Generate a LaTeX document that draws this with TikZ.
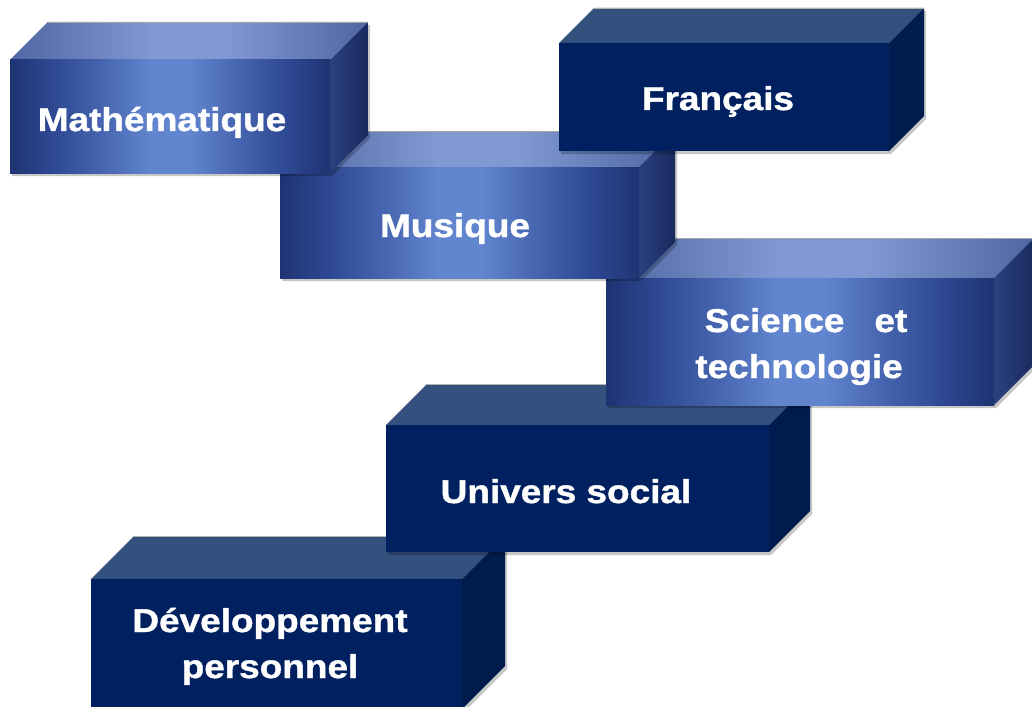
\documentclass[tikz,border=0pt]{standalone}
\usepackage{fontspec}
\setmainfont{Liberation Sans}[FakeStretch=1.12, BoldFeatures={FakeBold=1.2}]
\definecolor{navy}{HTML}{002060}
\definecolor{navytop}{HTML}{34507F}
\definecolor{navyside}{HTML}{001C4E}
\definecolor{gdark}{HTML}{1E3372}
\definecolor{gdm}{HTML}{2C4690}
\definecolor{gmid}{HTML}{4563AE}
\definecolor{glight}{HTML}{6285CF}
\definecolor{tdark}{HTML}{4E67A2}
\definecolor{tlight}{HTML}{8099D2}
\definecolor{sdark}{HTML}{1A2A5E}
\definecolor{slight}{HTML}{2A4080}
\pgfdeclarehorizontalshading{gfront}{100bp}{color(0bp)=(gdark); color(25bp)=(gdark); color(31bp)=(gdm); color(39bp)=(gmid); color(47bp)=(glight); color(53bp)=(glight); color(61bp)=(gmid); color(69bp)=(gdm); color(75bp)=(gdark); color(100bp)=(gdark)}
\pgfdeclarehorizontalshading{gtop}{100bp}{color(0bp)=(tdark); color(25bp)=(tdark); color(45bp)=(tlight); color(55bp)=(tlight); color(75bp)=(tdark); color(100bp)=(tdark)}
\pgfdeclarehorizontalshading{gside}{100bp}{color(0bp)=(slight); color(25bp)=(slight); color(75bp)=(sdark); color(100bp)=(sdark)}
\tikzset{
  lbl/.style={text=white, inner sep=0pt, font=\fontsize{33}{46}\selectfont\bfseries, align=center},
  shadowfill/.style={fill=black, opacity=0.22},
}
% #1 x1, #2 y1, #3 x2, #4 y2, #5 depth
\newcommand\shadowbox[5]{%
  \fill[shadowfill] (#1+2,#2+3) -- (#1+#5+2,#2-#5+3) -- (#3+#5+2,#2-#5+3) -- (#3+#5+2,#4-#5+3) -- (#3+2,#4+3) -- (#1+2,#4+3) -- cycle;}
\newcommand\gradbox[5]{%
  \shadowbox{#1}{#2}{#3}{#4}{#5}%
  \path[shading=gtop] (#1,#2) -- (#1+#5,#2-#5) -- (#3+#5,#2-#5) -- (#3,#2) -- cycle;
  \path[shading=gside] (#3,#2) -- (#3+#5,#2-#5) -- (#3+#5,#4-#5) -- (#3,#4) -- cycle;
  \path[shading=gfront] (#1,#2) rectangle (#3,#4);
  \draw[gray!70, line width=0.6pt] (#1+#5,#2-#5) -- (#3+#5,#2-#5);}
\newcommand\solidbox[5]{%
  \shadowbox{#1}{#2}{#3}{#4}{#5}%
  \fill[navytop] (#1,#2) -- (#1+#5,#2-#5) -- (#3+#5,#2-#5) -- (#3,#2) -- cycle;
  \fill[navyside] (#3,#2) -- (#3+#5,#2-#5) -- (#3+#5,#4-#5) -- (#3,#4) -- cycle;
  \fill[navy] (#1,#2) rectangle (#3,#4);
  \draw[gray!60, line width=0.6pt] (#1+#5,#2-#5) -- (#3+#5,#2-#5);}
\begin{document}
\begin{tikzpicture}[x=1pt,y=-1pt]
\useasboundingbox (0,0) rectangle (1032,706);
\fill[white] (0,0) rectangle (1032,706);
% draw order: bottom to top
\solidbox{91}{579}{462}{709}{43}
\solidbox{386}{425}{769}{552}{41}
\gradbox{606}{278}{994}{405}{40}
\gradbox{280}{167}{639}{278}{36}
\gradbox{10}{60}{330}{173}{38}
\solidbox{559}{43}{889}{151}{35}
% labels
\node[lbl, anchor=base] (math) at (162,131) {Mathématique};
\node[lbl, anchor=base] (fr) at (718,110) {Français};
\node[lbl, anchor=base] (mus) at (455,237) {Musique};
\node[lbl, anchor=base] (sci) at (799,378) {Science\hspace{30pt}et\hspace*{-14pt}\\technologie};
\node[lbl, anchor=base] (univ) at (566,503) {Univers social};
\node[lbl, anchor=base] (dev) at (270,678) {Développement\\personnel};
\end{tikzpicture}
\end{document}
